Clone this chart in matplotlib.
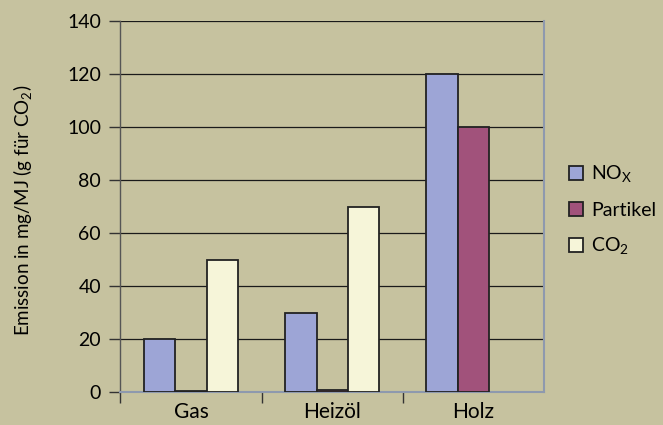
import matplotlib
matplotlib.use("Agg")
import matplotlib.pyplot as plt
import numpy as np

categories = ["Gas", "Heizöl", "Holz"]
nox = [20, 30, 120]
partikel = [0.5, 1.0, 100]
co2 = [50, 70, np.nan]
series_labels = ["NO$_{\\mathregular{X}}$", "Partikel", "CO$_{\\mathregular{2}}$"]
yticks = [0, 20, 40, 60, 80, 100, 120, 140]

plt.rcParams['font.family'] = ['Lato', 'DejaVu Sans']
plt.rcParams['mathtext.fontset'] = 'custom'
plt.rcParams['mathtext.rm'] = 'Lato'

bg = "#C6C29F"
colors = ["#9DA5D6", "#A1527B", "#F6F5D9"]

fig = plt.figure(figsize=(6.63, 4.25), dpi=100, facecolor=bg)
ax = fig.add_axes([0.1817, 0.0765, 0.8205 - 0.1817, 0.9513 - 0.0765])
ax.set_facecolor(bg)

x = np.arange(len(categories))
w = 0.222
for i, (vals, c, lab) in enumerate(zip([nox, partikel, co2], colors, series_labels)):
    ax.bar(x + (i - 1) * w, vals, width=w, color=c, edgecolor="#222222",
           linewidth=1.3, label=lab, zorder=3)

ax.set_xlim(-0.5, 2.5)
ax.set_ylim(0, 140)
ax.set_yticks(yticks)
ax.yaxis.grid(True, color="#1a1a1a", linewidth=0.9, zorder=1)
ax.set_axisbelow(True)

ax.set_xticks(x)
ax.set_xticklabels(categories, fontsize=15)
ax.set_xticks([-0.5, 0.5, 1.5], minor=True)
ax.tick_params(axis='x', which='major', length=0, pad=7)
ax.tick_params(axis='x', which='minor', length=8, width=1, color="#333333", direction='out')
ax.tick_params(axis='y', length=8, width=1, color="#333333", labelsize=14, pad=6)

ax.spines["top"].set_visible(False)
ax.spines["left"].set_color("#555555")
ax.spines["left"].set_linewidth(1.0)
ax.spines["right"].set_color("#8E99AE")
ax.spines["right"].set_linewidth(1.5)
ax.spines["bottom"].set_color("#8E99AE")
ax.spines["bottom"].set_linewidth(1.5)

ax.set_ylabel("Emission in mg/MJ (g für CO$_{\\mathregular{2}}$)", fontsize=13.5)
ax.yaxis.set_label_coords(-0.202, 0.49)

leg = fig.legend(loc="center left", bbox_to_anchor=(0.858, 0.505), frameon=False,
                 fontsize=14, handlelength=0.75, handleheight=0.75, handletextpad=0.4,
                 labelspacing=0.85, borderpad=0, borderaxespad=0)

fig.savefig("out.png", dpi=100, facecolor=bg)
